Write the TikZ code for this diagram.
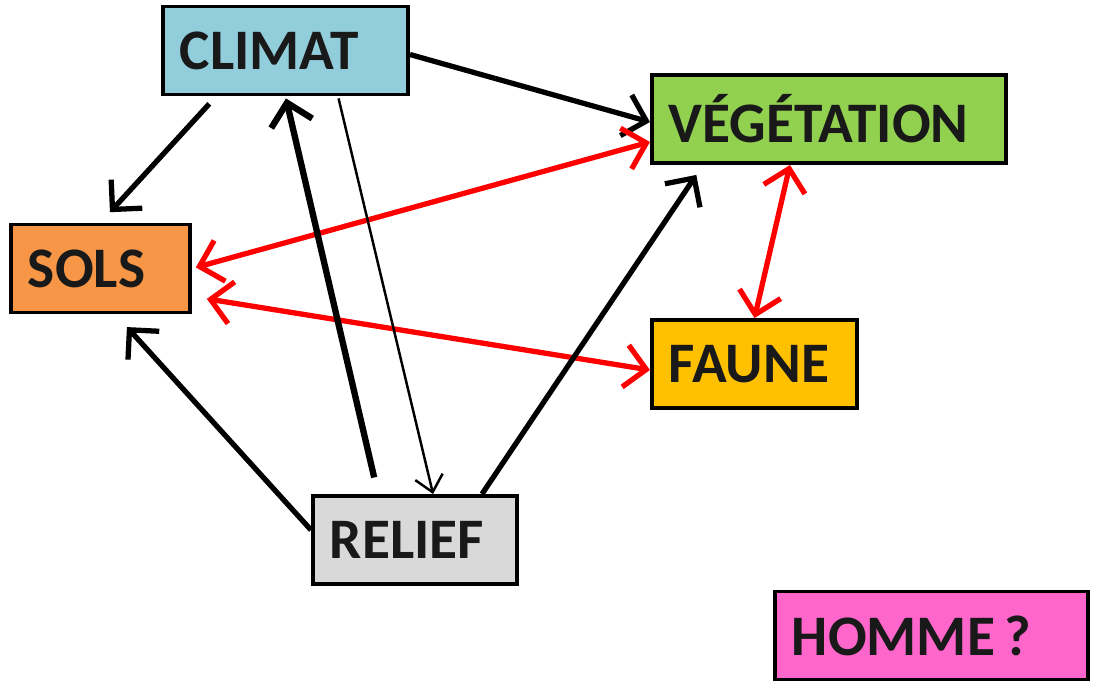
\documentclass[tikz,border=0pt]{standalone}
\usepackage{fontspec}
\setmainfont{Carlito}
\usepackage{tikz}
\usetikzlibrary{positioning,arrows.meta}
\definecolor{climatc}{HTML}{92CDDC}
\definecolor{vegc}{HTML}{92D050}
\definecolor{solsc}{HTML}{F79646}
\definecolor{faunec}{HTML}{FFC000}
\definecolor{reliefc}{HTML}{D9D9D9}
\definecolor{hommec}{HTML}{FF66CC}
\definecolor{rouge}{HTML}{FF0000}
\tikzset{
  box/.style={draw,line width=1.1pt,inner xsep=0.17cm,minimum height=0.88cm,align=left,
    font=\fontsize{16.3}{19}\selectfont\bfseries,text=black!90},
  arr/.style={line width=1.5pt,-{Straight Barb[length=6pt,width=12pt]}},
  thinarr/.style={line width=0.7pt,-{Straight Barb[length=4.5pt,width=8pt]}},
  redarr/.style={rouge,line width=1.5pt,{Straight Barb[length=6pt,width=12pt]}-{Straight Barb[length=6pt,width=12pt]}}
}

\begin{document}
\begin{tikzpicture}[x=0.01cm,y=-0.01cm]
\useasboundingbox (0,0) rectangle (1093,687);
\node at(285.5,50.5)[box,fill=climatc,text width=2.11cm](climat){CLIMAT};
\node at(829,119)[box,fill=vegc,text width=3.20cm](veg){VÉGÉTATION};
\node at(100.5,268.5)[box,fill=solsc,text width=1.45cm](sols){SOLS};
\node at(754.5,364)[box,fill=faunec,text width=1.71cm](faune){FAUNE};
\node at(415,540)[box,fill=reliefc,text width=1.70cm](relief){RELIEF};
\node at(931.5,635.5)[box,fill=hommec,text width=2.79cm](homme){HOMME\,?};

\draw[arr] ([yshift=-0.04cm]climat.east) -- ([yshift=-0.03cm]veg.west);
\draw[arr,shorten <=0.1cm,shorten >=0.14cm] ([xshift=0.55cm]climat.south west) -- (sols.north);
\draw[redarr,shorten <=0.04cm] (sols.east) -- ([yshift=0.23cm]veg.south west);
\draw[redarr,shorten <=0.15cm] ([yshift=0.18cm]sols.south east) -- ([yshift=-0.06cm]faune.west);
\draw[redarr] ([xshift=-0.39cm]veg.south) -- (faune.north);
\draw[arr,line width=1.8pt,shorten <=0.17cm,shorten >=0.02cm] ([xshift=0.67cm]relief.north west) -- (climat.south);
\draw[thinarr,shorten <=0.02cm] ([xshift=1.77cm]climat.south west) -- ([xshift=1.22cm]relief.north west);
\draw[arr,shorten >=0.12cm] ([xshift=-0.37cm]relief.north east) -- ([xshift=0.53cm]veg.south west);
\draw[arr,shorten >=0.17cm] ([yshift=0.1cm]relief.west) -- ([xshift=0.15cm]sols.south);
\end{tikzpicture}
\end{document}
